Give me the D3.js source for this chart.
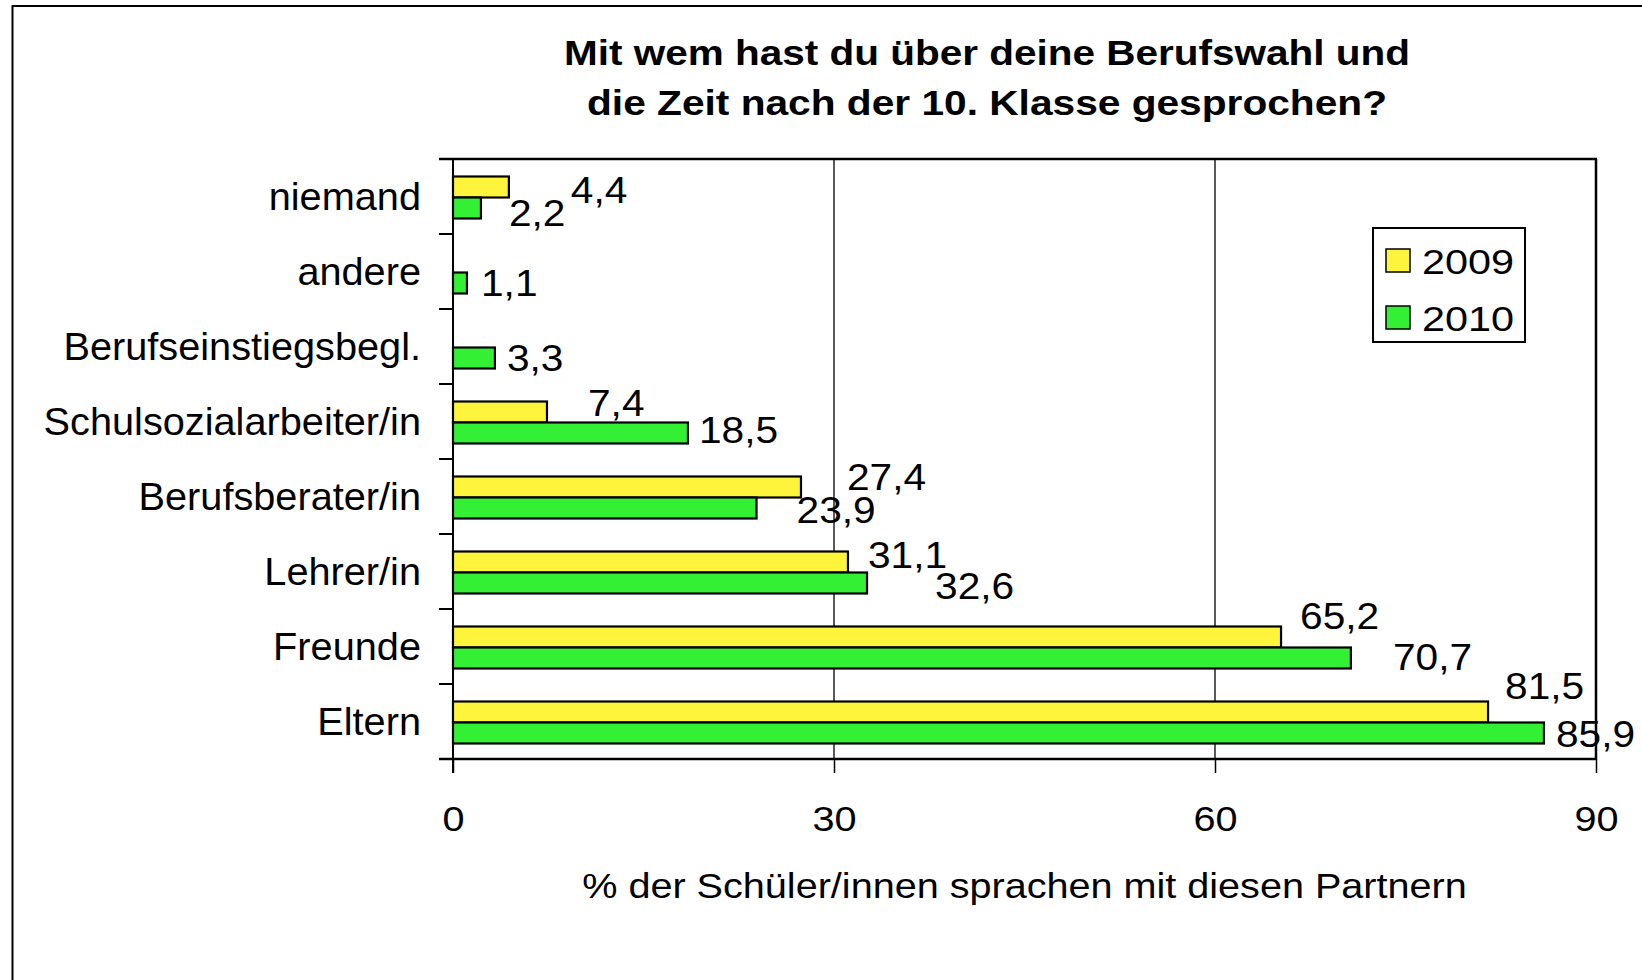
<!DOCTYPE html>
<html>
<head>
<meta charset="utf-8">
<script src="https://cdn.jsdelivr.net/npm/d3@7/dist/d3.min.js"></script>
<style>
  html, body { margin: 0; padding: 0; background: #fff; }
  svg { display: block; }
  text { font-family: "Liberation Sans", Arial, sans-serif; fill: #000; }
</style>
</head>
<body>
<svg id="chart" width="1642" height="980"></svg>
<script>
// ---- data ----
const titleLines = ["Mit wem hast du über deine Berufswahl und", "die Zeit nach der 10. Klasse gesprochen?"];
const categories = ["niemand", "andere", "Berufseinstiegsbegl.", "Schulsozialarbeiter/in", "Berufsberater/in", "Lehrer/in", "Freunde", "Eltern"];
const seriesNames = ["2009", "2010"];
const values2009 = [4.4, null, null, 7.4, 27.4, 31.1, 65.2, 81.5];
const values2010 = [2.2, 1.1, 3.3, 18.5, 23.9, 32.6, 70.7, 85.9];
const xTicks = [0, 30, 60, 90];
const xAxisTitle = "% der Schüler/innen sprachen mit diesen Partnern";

// ---- layout (label nudges as placed in the original) ----
const labelDx2009 = [62, 0, 0, 41, 46, 20, 19, 17];
const labelDy2009 = [3, 0, 0, -9, -10, -7, -21, -26];
const labelDx2010 = [28, 14, 12, 11, 40, 68, 42, 12];
const labelDy2010 = [5, 0, 0, -3, 2, 3, -1, 1];
const colors = {"2009": "#fff43c", "2010": "#34f034"};

const svg = d3.select("#chart");
const plot = {left: 453, right: 1596, top: 159, bottom: 759};

// horizontal stretch of text about its own x anchor (reference font renders wider)
function stretchX(sel, k) {
  sel.each(function() {
    const t = d3.select(this);
    const ax = +t.attr("x") || 0;
    t.attr("transform", `translate(${ax},0) scale(${k},1) translate(${-ax},0)`);
  });
}

// outer chart border (extends beyond right/bottom edge)
svg.append("rect").attr("x", 12.5).attr("y", 6).attr("width", 1700).attr("height", 1100)
  .attr("fill", "#fff").attr("stroke", "#000").attr("stroke-width", 2);

const x = d3.scaleLinear().domain([0, 90]).range([plot.left, plot.right]);
const y = d3.scaleBand().domain(categories).range([plot.top, plot.bottom]).padding(0);
const ySub = d3.scaleBand().domain(seriesNames).range([17.5, 59.5]).padding(0);

// title
svg.append("g").selectAll("text").data(titleLines).join("text")
  .attr("x", 987).attr("y", (d, i) => 65 + i * 50)
  .attr("text-anchor", "middle")
  .attr("font-size", 35).attr("font-weight", "bold")
  .attr("textLength", (d, i) => i === 0 ? 846 : 800)
  .attr("lengthAdjust", "spacingAndGlyphs")
  .text(d => d);

// gridlines
svg.append("g").selectAll("line").data(xTicks.filter(t => t > 0 && t < 90)).join("line")
  .attr("x1", d => x(d)).attr("x2", d => x(d))
  .attr("y1", plot.top).attr("y2", plot.bottom)
  .attr("stroke", "#000").attr("stroke-width", 1.3);

// plot frame top / right
svg.append("line").attr("x1", plot.left - 14).attr("x2", plot.right + 1).attr("y1", plot.top).attr("y2", plot.top)
  .attr("stroke", "#000").attr("stroke-width", 2.5);
svg.append("line").attr("x1", plot.right).attr("x2", plot.right).attr("y1", plot.top).attr("y2", plot.bottom)
  .attr("stroke", "#000").attr("stroke-width", 2.5);

// bars
const rows = categories.map((c, i) => ({c, i, v: {"2009": values2009[i], "2010": values2010[i]}}));
const barG = svg.append("g");
seriesNames.forEach(s => {
  barG.selectAll("rect.s" + s).data(rows.filter(r => r.v[s] != null)).join("rect")
    .attr("class", "s" + s)
    .attr("x", x(0))
    .attr("y", r => y(r.c) + ySub(s))
    .attr("width", r => x(r.v[s]) - x(0))
    .attr("height", ySub.bandwidth())
    .attr("fill", colors[s]).attr("stroke", "#000").attr("stroke-width", 2.2);
});

// y axis
const yAxis = d3.axisLeft(y).tickSize(0).tickPadding(32);
const yg = svg.append("g").attr("transform", `translate(${plot.left},0)`).call(yAxis);
yg.select(".domain").remove();
yg.selectAll("text").attr("font-size", 38).attr("font-family", "'Liberation Sans', Arial, sans-serif").attr("fill", "#000")
  .attr("dy", "0.36em");
stretchX(yg.selectAll("text"), 1.045);
svg.append("line").attr("x1", plot.left).attr("x2", plot.left).attr("y1", plot.top).attr("y2", plot.bottom + 14)
  .attr("stroke", "#000").attr("stroke-width", 2);
// category boundary ticks
const bounds = categories.map(c => y(c)).concat([plot.bottom]);
svg.append("g").selectAll("line").data(bounds).join("line")
  .attr("x1", plot.left - 14).attr("x2", plot.left).attr("y1", d => d).attr("y2", d => d)
  .attr("stroke", "#000").attr("stroke-width", 2);

// x axis
const xAxis = d3.axisBottom(x).tickValues(xTicks).tickSize(14).tickPadding(32).tickFormat(d3.format("d"));
const xg = svg.append("g").attr("transform", `translate(0,${plot.bottom})`).call(xAxis);
xg.select(".domain").remove();
xg.selectAll(".tick line").attr("stroke", "#000").attr("stroke-width", 1.5);
xg.selectAll("text").attr("font-size", 36).attr("font-family", "'Liberation Sans', Arial, sans-serif").attr("fill", "#000");
stretchX(xg.selectAll("text"), 1.1);
svg.append("line").attr("x1", plot.left - 14).attr("x2", plot.right + 1).attr("y1", plot.bottom).attr("y2", plot.bottom)
  .attr("stroke", "#000").attr("stroke-width", 2.5);

// x axis title
const xt = svg.append("text").attr("x", (plot.left + plot.right) / 2).attr("y", 898)
  .attr("text-anchor", "middle").attr("font-size", 36).text(xAxisTitle);
stretchX(xt, 1.1);

// data labels
const fmt = v => String(v).replace(".", ",");
const dxs = {"2009": labelDx2009, "2010": labelDx2010};
const dys = {"2009": labelDy2009, "2010": labelDy2010};
seriesNames.forEach(s => {
  const lab = svg.append("g").selectAll("text").data(rows.filter(r => r.v[s] != null)).join("text")
    .attr("x", r => x(r.v[s]) + dxs[s][r.i])
    .attr("y", r => y(r.c) + ySub(s) + ySub.bandwidth() / 2 + dys[s][r.i])
    .attr("dy", "0.36em")
    .attr("font-size", 36)
    .text(r => fmt(r.v[s]));
  stretchX(lab, 1.13);
});

// legend
const lg = svg.append("g");
lg.append("rect").attr("x", 1373).attr("y", 228).attr("width", 152).attr("height", 114)
  .attr("fill", "#fff").attr("stroke", "#000").attr("stroke-width", 2);
seriesNames.forEach((s, i) => {
  lg.append("rect").attr("x", 1386).attr("y", 249 + i * 57).attr("width", 24).attr("height", 23)
    .attr("fill", colors[s]).attr("stroke", "#000").attr("stroke-width", 1.5);
  const lt = lg.append("text").attr("x", 1422).attr("y", 274 + i * 57).attr("font-size", 36).text(s);
  stretchX(lt, 1.15);
});
</script>
</body>
</html>
